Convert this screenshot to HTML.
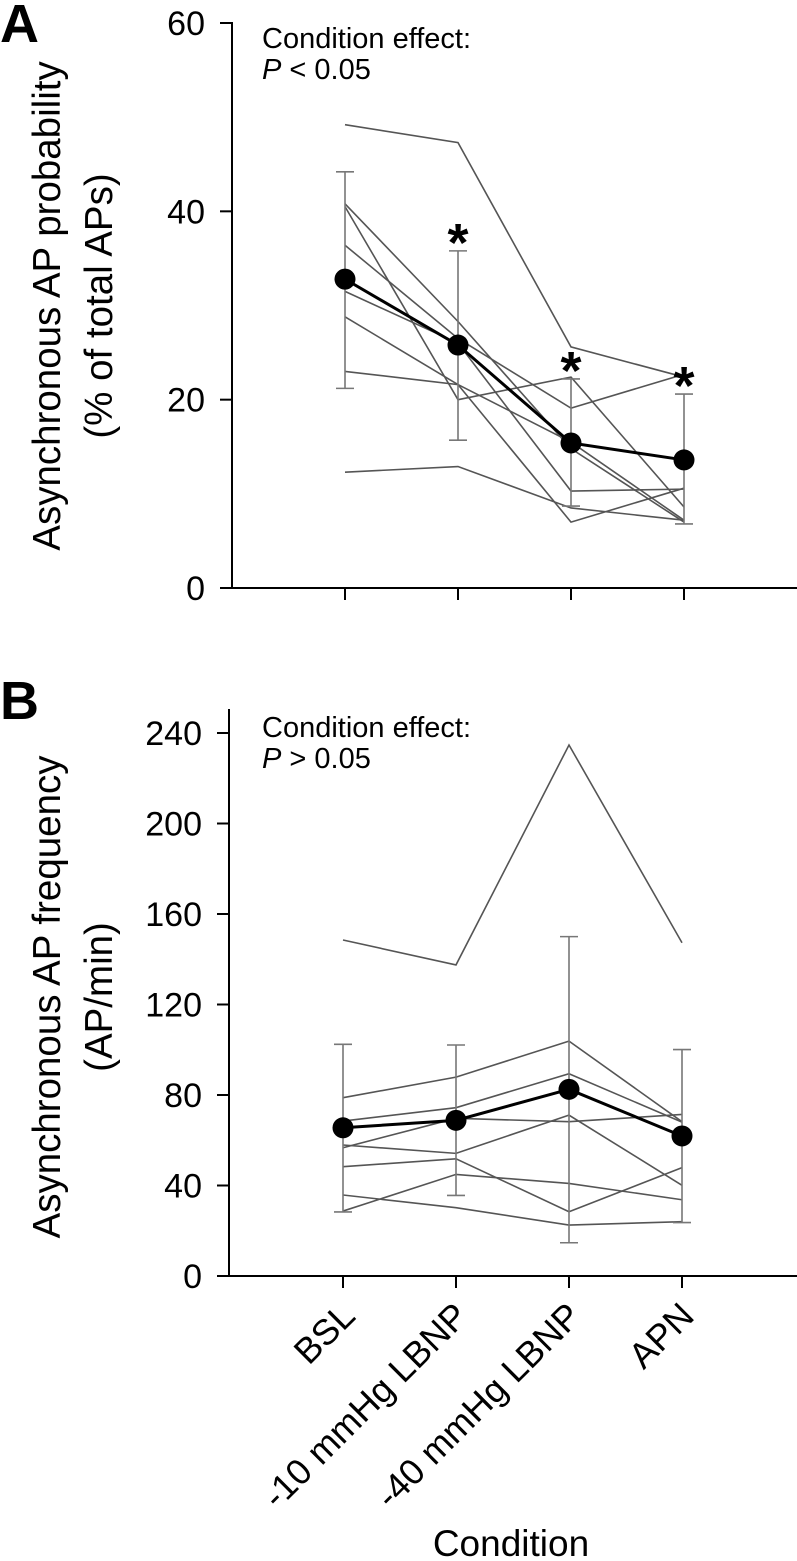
<!DOCTYPE html>
<html><head><meta charset="utf-8"><style>
html,body{margin:0;padding:0;background:#fff;}
svg{display:block;font-family:"Liberation Sans",Arial,sans-serif;}
</style></head><body>
<svg id="chart" width="797" height="1561" viewBox="0 0 797 1561" xmlns="http://www.w3.org/2000/svg">
<g id="panelA"></g>
<g id="panelB"></g>
</svg>
<script>
const categories = ["BSL", "-10 mmHg LBNP", "-40 mmHg LBNP", "APN"];
// Panel A: asynchronous AP probability (%)
const aTicks = [0, 20, 40, 60];
const aSubjects = [
  [49.2, 47.3, 25.6, 22.4],
  [40.8, 28.3, 14.8, 7.0],
  [40.5, 20.0, 22.4, 8.6],
  [36.4, 26.5, 19.1, 22.7],
  [31.5, 26.0, 10.3, 10.5],
  [28.8, 21.6, 15.5, 7.2],
  [23.0, 21.6, 7.0, 10.6],
  [12.3, 12.9, 8.5, 7.2]
];
const aMean = [32.8, 25.8, 15.4, 13.6];
const aErrLow = [21.2, 15.7, 8.7, 6.8];
const aErrHigh = [44.2, 35.8, 22.2, 20.6];
const aSig = [false, true, true, true];
// Panel B: asynchronous AP frequency (AP/min)
const bTicks = [0, 40, 80, 120, 160, 200, 240];
const bSubjects = [
  [148.5, 137.5, 234.7, 147.3],
  [78.8, 87.9, 103.8, 68.2],
  [68.5, 74.4, 89.4, 68.0],
  [56.7, 69.7, 68.2, 71.4],
  [57.9, 54.2, 71.1, 40.1],
  [48.3, 51.8, 28.4, 47.9],
  [28.7, 44.9, 40.9, 33.7],
  [35.8, 30.2, 22.5, 24.0]
];
const bMean = [65.5, 68.8, 82.5, 61.9];
const bErrLow = [28.3, 35.6, 14.7, 23.6];
const bErrHigh = [102.4, 102.1, 150.0, 100.1];

const NS = "http://www.w3.org/2000/svg";
function mk(parent, tag, attrs, text){
  const e = document.createElementNS(NS, tag);
  for (const k in attrs) e.setAttribute(k, attrs[k]);
  if (text !== undefined) e.textContent = text;
  parent.appendChild(e);
  return e;
}

function drawPanel(g, cfg){
  const {axisX, y0, yMax, yMaxPx, y0Px, xPos, ticks, subjects, mean, lo, hi, sig, axisTop, letter, letterY, titles, titleCY, noteY, noteSym} = cfg;
  const yS = v => y0Px - (v - y0) / (yMax - y0) * (y0Px - yMaxPx);
  const xS = i => xPos[0] + i * (xPos[1] - xPos[0]);

  const L = mk(g, "text", {x: 0, y: letterY, "font-size": 54, "font-weight": "bold", fill: "#000"}, letter);
  
  

  titles.forEach((t, k) => {
    const cx = k === 0 ? 50 : 102;
    const tt = mk(g, "text", {x: cx, y: titleCY, "font-size": 38.5, "text-anchor": "middle", "dominant-baseline": "middle", transform: `rotate(-90 ${cx} ${titleCY})`, fill: "#000"}, t);
    
    
  });

  const ya = mk(g, "line", {x1: axisX, y1: axisTop, x2: axisX, y2: y0Px + 1, stroke: "#000", "stroke-width": 2});
  
  
  const xa = mk(g, "line", {x1: axisX - 1, y1: y0Px, x2: 797, y2: y0Px, stroke: "#000", "stroke-width": 2});
  
  

  ticks.forEach(t => {
    const y = yS(t);
    const tl = mk(g, "line", {x1: axisX - 12, y1: y, x2: axisX, y2: y, stroke: "#000", "stroke-width": 2});
    
    
    const lb = mk(g, "text", {x: axisX - 27, y: y + 12, "font-size": 34, "text-anchor": "end", fill: "#000"}, String(t));
    
    
  });
  categories.forEach((c, i) => {
    const tk = mk(g, "line", {x1: xS(i), y1: y0Px, x2: xS(i), y2: y0Px + 12, stroke: "#000", "stroke-width": 2});
    
    
  });

  const n1 = mk(g, "text", {x: 262, y: noteY, "font-size": 29, fill: "#000"}, "Condition effect:");
  
  
  const n2 = mk(g, "text", {x: 262, y: noteY + 31, "font-size": 29, fill: "#000"});
  
  
  mk(n2, "tspan", {"font-style": "italic"}, "P");
  mk(n2, "tspan", {}, " " + noteSym + " 0.05");

  subjects.forEach((s, j) => {
    const pts = s.map((v, i) => `${xS(i)},${yS(v)}`).join(" ");
    const pl = mk(g, "polyline", {points: pts, fill: "none", stroke: "#555", "stroke-width": 1.6});
    
    
  });

  mean.forEach((m, i) => {
    const x = xS(i);
    const eb = mk(g, "path", {d: `M${x},${yS(lo[i])}V${yS(hi[i])}M${x - 9},${yS(lo[i])}H${x + 9}M${x - 9},${yS(hi[i])}H${x + 9}`, stroke: "#777", "stroke-width": 1.6, fill: "none"});
    
    
  });

  const mpts = mean.map((v, i) => `${xS(i)},${yS(v)}`).join(" ");
  const ml = mk(g, "polyline", {points: mpts, fill: "none", stroke: "#000", "stroke-width": 3});
  
  
  mean.forEach((v, i) => {
    const c = mk(g, "circle", {cx: xS(i), cy: yS(v), r: 10.5, fill: "#000"});
    
    
  });

  if (sig) sig.forEach((s, i) => {
    if (!s) return;
    const a = mk(g, "text", {x: xS(i), y: yS(hi[i]) + 10, "font-size": 54, "font-weight": "bold", "text-anchor": "middle", fill: "#000"}, "*");
    
    
  });
  return xS;
}

const A = document.getElementById("panelA");
drawPanel(A, {axisX: 232, y0: 0, yMax: 60, y0Px: 588, yMaxPx: 23, xPos: [345, 458], ticks: aTicks,
  subjects: aSubjects, mean: aMean, lo: aErrLow, hi: aErrHigh, sig: aSig, axisTop: 22,
  letter: "A", letterY: 42, titles: ["Asynchronous AP probability", "(% of total APs)"], titleCY: 306, noteY: 48, noteSym: "<"});

const B = document.getElementById("panelB");
const xSB = drawPanel(B, {axisX: 229, y0: 0, yMax: 240, y0Px: 1276, yMaxPx: 733, xPos: [343, 456], ticks: bTicks,
  subjects: bSubjects, mean: bMean, lo: bErrLow, hi: bErrHigh, sig: null, axisTop: 709,
  letter: "B", letterY: 719, titles: ["Asynchronous AP frequency", "(AP/min)"], titleCY: 997, noteY: 737, noteSym: ">"});

categories.forEach((c, i) => {
  const x = xSB(i) + 14, y = 1318;
  const t = mk(B, "text", {x: x, y: y, "font-size": 36, "text-anchor": "end", transform: `rotate(-45 ${x} ${y})`, fill: "#000"}, c);
  
  
});
const xt = mk(B, "text", {x: 511, y: 1556, "font-size": 37, "text-anchor": "middle", fill: "#000"}, "Condition");


</script>
</body></html>
